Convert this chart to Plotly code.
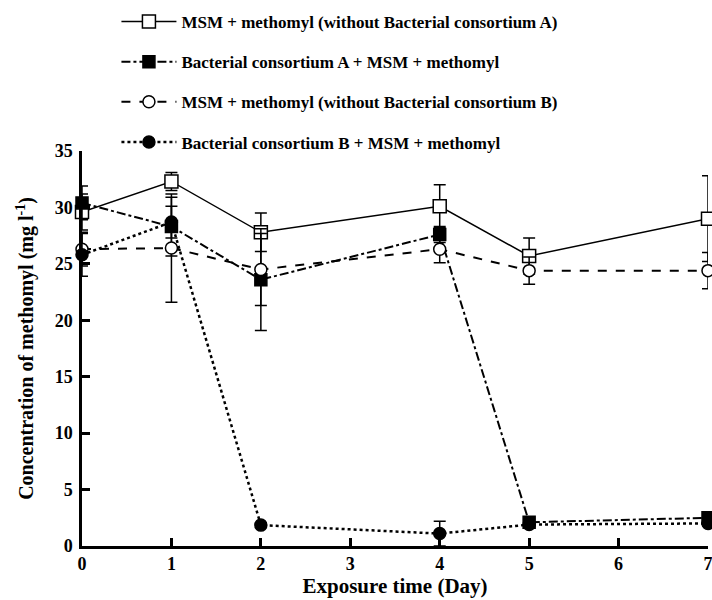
import plotly.graph_objects as go

days = [0, 1, 2, 4, 5, 7]

msm_a = [29.6, 32.3, 27.8, 30.1, 25.7, 29.0]
msm_a_err = [1.6, 0.8, 1.7, 1.9, 1.6, 3.8]

cons_a = [30.4, 28.3, 23.6, 27.6, 2.1, 2.5]
cons_a_err = [1.5, 2.6, 4.5, 0.7, 0.3, 0.3]

msm_b = [26.3, 26.4, 24.5, 26.3, 24.4, 24.4]
msm_b_err = [1.5, 4.8, 3.2, 1.2, 1.2, 1.6]

cons_b = [25.8, 28.7, 1.85, 1.1, 1.9, 2.0]
cons_b_err = [1.9, 1.4, 0.2, 1.1, 0.2, 0.2]

names = [
    "MSM + methomyl (without Bacterial consortium A)",
    "Bacterial consortium A + MSM + methomyl",
    "MSM + methomyl (without Bacterial consortium B)",
    "Bacterial consortium B + MSM + methomyl",
]

FONT = "Liberation Serif, Times New Roman, serif"

series = [
    (msm_a, msm_a_err, "square", "white", "solid", 1.5, 13),
    (cons_a, cons_a_err, "square", "black", "dashdot", 2, 12),
    (msm_b, msm_b_err, "circle", "white", "dash", 2, 12),
    (cons_b, cons_b_err, "circle", "black", "dot", 2.5, 12),
]

fig = go.Figure()
for i, (vals, err, sym, fill, dash, lw, ms) in enumerate(series):
    fig.add_trace(go.Scatter(
        x=days, y=vals, name=names[i], legendgroup=f"g{i}",
        mode="lines+markers",
        line=dict(color="black", width=lw, dash=dash),
        marker=dict(symbol=sym, size=ms, color=fill, line=dict(color="black", width=1.5)),
        error_y=dict(type="data", array=err, visible=True, color="black", thickness=1.5, width=6),
        cliponaxis=False,
    ))

fig.update_layout(
    width=712, height=600,
    margin=dict(l=82, r=4, t=148, b=54),
    paper_bgcolor="white", plot_bgcolor="white",
    font=dict(family=FONT, color="black"),
    showlegend=True,
    legend=dict(
        x=0.055, y=1.372, xanchor="left", yanchor="top",
        font=dict(family=FONT, size=17, weight="bold", color="black"),
        tracegroupgap=15, itemwidth=55, bgcolor="rgba(0,0,0,0)",
    ),
    xaxis=dict(
        range=[0, 7], tickvals=[0, 1, 2, 3, 4, 5, 6, 7],
        showline=True, linecolor="black", linewidth=2.5,
        ticks="inside", ticklen=8, tickwidth=2.5, tickcolor="black",
        showgrid=False, zeroline=False, automargin=False,
        ticklabeloverflow="allow",
        tickfont=dict(family=FONT, size=18, weight="bold"),
        title=dict(text="Exposure time (Day)", font=dict(family=FONT, size=21, weight="bold"), standoff=0),
    ),
    yaxis=dict(
        range=[0, 35], tickvals=[0, 5, 10, 15, 20, 25, 30, 35],
        showline=True, linecolor="black", linewidth=2.5,
        ticks="inside", ticklen=8, tickwidth=2.5, tickcolor="black",
        showgrid=False, zeroline=False, automargin=False,
        ticklabelstandoff=3,
        tickfont=dict(family=FONT, size=18, weight="bold"),
        title=dict(text="Concentration of methomyl (mg l<sup>-1</sup>)", font=dict(family=FONT, size=20, weight="bold"), standoff=16),
    ),
)

fig.write_html("out.html", config={"displayModeBar": False},
               post_script="document.body.style.margin='0';")
